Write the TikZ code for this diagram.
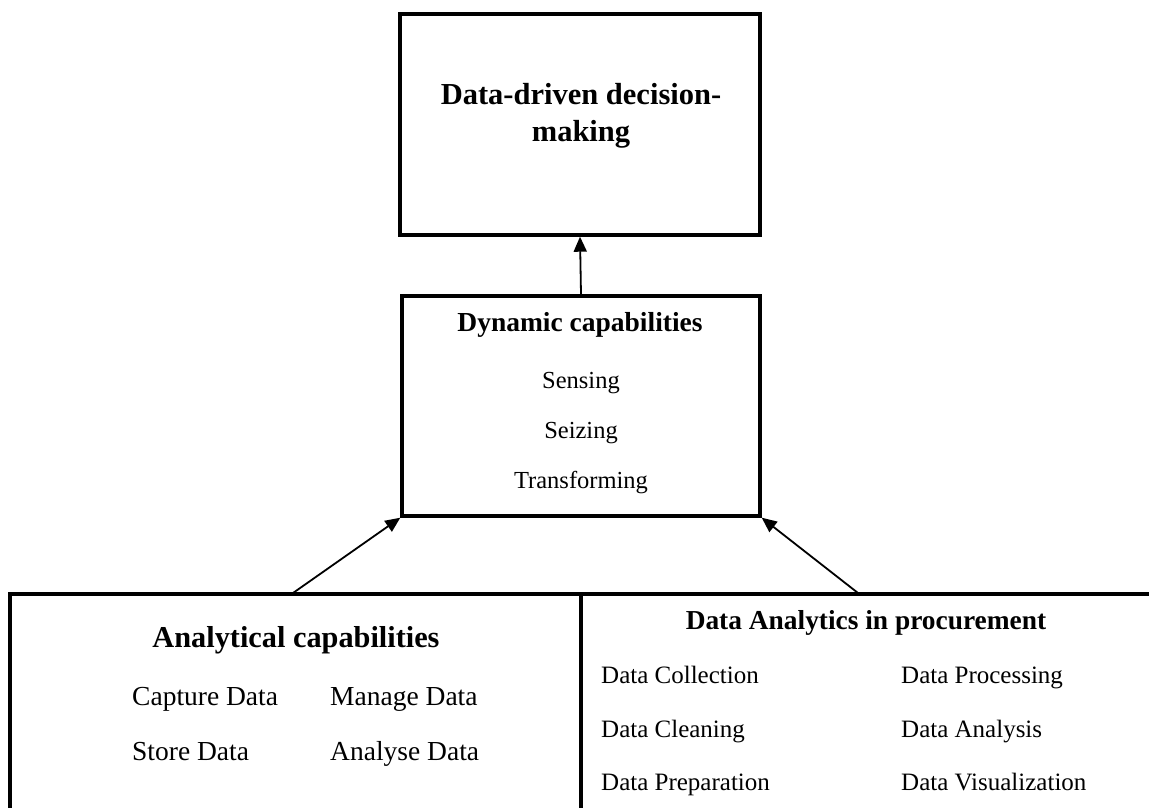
\documentclass[tikz,border=0pt]{standalone}
\usepackage{fontspec}
\setmainfont{Liberation Serif}
\usetikzlibrary{arrows.meta}
\begin{document}
\begin{tikzpicture}[x=1pt,y=-1pt,
  box/.style={draw,line width=3.4pt,inner sep=0pt},
  conn/.style={line width=1.8pt,-{Triangle[length=15pt,width=13pt]}},
  ttl/.style={font=\bfseries\fontsize{30.5}{34}\selectfont,anchor=base,inner sep=0pt},
  hd/.style={font=\bfseries\fontsize{#1}{#1}\selectfont,anchor=base,inner sep=0pt},
  itm/.style={font=\fontsize{#1}{#1}\selectfont,anchor=base west,inner sep=0pt},
  citm/.style={font=\fontsize{#1}{#1}\selectfont,anchor=base,inner sep=0pt}]
\useasboundingbox (0,0) rectangle (1149,807);
\clip (0,0) rectangle (1149,807);
% boxes
\node[box,minimum width=360pt,minimum height=221pt] (top) at (580,124.5) {};
\node[box,minimum width=358pt,minimum height=220pt] (dyn) at (581,406) {};
\node[box,minimum width=571pt,minimum height=260pt] (ana) at (295.5,724) {};
\node[box,minimum width=600pt,minimum height=260pt] (proc) at (881,724) {};
% texts
\node[ttl] (t1) at (581,104) {Data-driven decision-};
\node[ttl] (t2) at (581,141) {making};
\node[hd=27.5] (dh) at (580,331) {Dynamic capabilities};
\node[citm=24.5] (d1) at (581,388) {Sensing};
\node[citm=24.5] (d2) at (581,438) {Seizing};
\node[citm=24.5] (d3) at (581,488) {Transforming};
\node[hd=30.3] (ah) at (296,647) {Analytical capabilities};
\node[itm=27.5] (a1) at (132,705) {Capture Data};
\node[itm=27.5] (a2) at (330,705) {Manage Data};
\node[itm=27.5] (a3) at (132,760) {Store Data};
\node[itm=27.5] (a4) at (330,760) {Analyse Data};
\node[hd=27.4] (ph) at (866,629) {Data Analytics in procurement};
\node[itm=25] (p1) at (601,683) {Data Collection};
\node[itm=25] (p2) at (901,683) {Data Processing};
\node[itm=25] (p3) at (601,737) {Data Cleaning};
\node[itm=25] (p4) at (901,737) {Data Analysis};
\node[itm=25] (p5) at (601,790) {Data Preparation};
\node[itm=25] (p6) at (901,790) {Data Visualization};
% connectors
\coordinate (as) at (293,593);
\coordinate (ps) at (858,593);
\draw[conn] (dyn.north) -- (top.south);
\draw[conn] (as) -- (dyn.south west);
\draw[conn] (ps) -- (dyn.south east);
\end{tikzpicture}
\end{document}
